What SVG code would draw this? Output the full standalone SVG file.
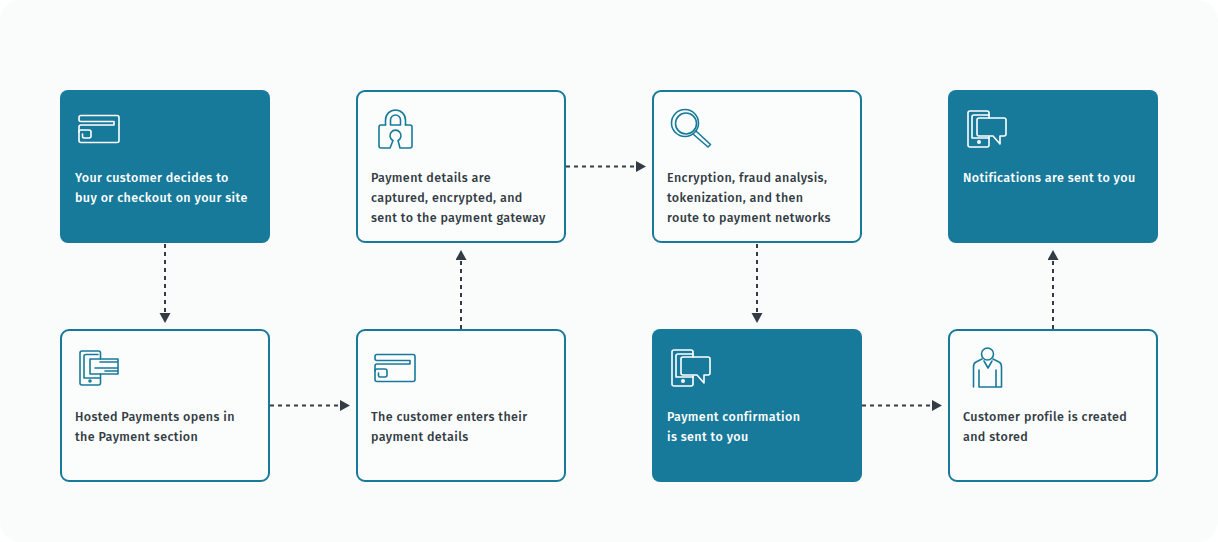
<svg xmlns="http://www.w3.org/2000/svg" xmlns:xlink="http://www.w3.org/1999/xlink" width="1218" height="542" viewBox="0 0 1218 542">
<style>
text{font-family:"Fira Sans","Noto Sans","Liberation Sans",sans-serif;font-size:12.5px;font-weight:500;letter-spacing:.39px}
.a{color:#fff}
.b{color:#187a9a}
.a text{fill:#fff}
.b text{fill:#333c44}
.b>rect{fill:#fbfdfd;stroke:#187a9a;stroke-width:2}
.a>rect{fill:#187a9a}
.i{fill:none;stroke:currentColor;stroke-width:1.6;stroke-linecap:round;stroke-linejoin:round}
.c{fill:none;stroke:#333c44;stroke-width:2;stroke-dasharray:4 4}
</style>
<defs>
<marker id="h" markerWidth="12" markerHeight="12" refX="0" refY="5.5" orient="auto" markerUnits="userSpaceOnUse"><path d="M0 0L10 5.500L0 11Z" fill="#333c44"/></marker>
<g id="card" class="i"><path d="M81 115.500H117a2 2 0 0 1 2 2V140.500a2 2 0 0 1-2 2H81a2 2 0 0 1-2-2V127a2 2 0 0 1 2-2H114V121.500H81a2 2 0 0 1-2-2V117.500a2 2 0 0 1 2-2Z"/><path d="M79 132a2 2 0 0 1 2-2H89a2 2 0 0 1 2 2V136a2 2 0 0 1-2 2H84a1.500 1.500 0 0 1-1.500-1.500V134"/></g>
<g id="chat" class="i"><path d="M989 118V113a2 2 0 0 0-2-2H970a2 2 0 0 0-2 2V145a2 2 0 0 0 2 2H987a2 2 0 0 0 2-2V137"/><path d="M989 115H974a2 2 0 0 0-2 2V138H989"/><circle cx="979" cy="142" r="1.200"/><path d="M979 118H1004a2 2 0 0 1 2 2V134a2 2 0 0 1-2 2H1000V144L993 136H979a2 2 0 0 1-2-2V120a2 2 0 0 1 2-2Z"/></g>
</defs>
<rect width="1218" height="542" rx="20" fill="#fafcfc"/>
<g id="connectors">
<path class="c" d="M165 244V313" marker-end="url(#h)"/>
<path class="c" d="M270 405.500H340" marker-end="url(#h)"/>
<path class="c" d="M461 329V260" marker-end="url(#h)"/>
<path class="c" d="M566 166.500H636" marker-end="url(#h)"/>
<path class="c" d="M757 244V313" marker-end="url(#h)"/>
<path class="c" d="M862 405.500H932" marker-end="url(#h)"/>
<path class="c" d="M1053 329V260" marker-end="url(#h)"/>
</g>
<g id="n1" class="a"><rect x="60" y="90" width="210" height="153" rx="8"/><use xlink:href="#card" href="#card"/><text x="75" y="182">Your customer decides to</text><text x="75" y="202">buy or checkout on your site</text></g>
<g id="n2" class="b"><rect x="61" y="330" width="208" height="151" rx="8"/><g class="i"><path d="M100.500 359V353a2 2 0 0 0-2-2H82a2 2 0 0 0-2 2V383a2 2 0 0 0 2 2H98.500a2 2 0 0 0 2-2V374"/><path d="M98 354.500H86a2 2 0 0 0-2 2V378H100"/><circle cx="90" cy="381" r="1"/><path d="M90 359H118V374H90ZM100 362H118M95 368H118M105 371H118"/></g><text x="75" y="421">Hosted Payments opens in</text><text x="75" y="441">the Payment section</text></g>
<g id="n3" class="b"><rect x="357" y="91" width="208" height="151" rx="8"/><g class="i"><path d="M385.500 125V120a10 10 0 0 1 20 0V125M390.500 125V120a5 5 0 0 1 10 0V125H390.500"/><path d="M385.500 125H381a2 2 0 0 0-2 2V146a2 2 0 0 0 2 2H390L393 140.500a5.500 5.500 0 1 1 5 0L400 148H410a2 2 0 0 0 2-2V127a2 2 0 0 0-2-2H405.500"/></g><text x="371" y="182">Payment details are</text><text x="371" y="202">captured, encrypted, and</text><text x="371" y="222">sent to the payment gateway</text></g>
<g id="n4" class="b"><rect x="357" y="330" width="208" height="151" rx="8"/><use xlink:href="#card" href="#card" x="296" y="239"/><text x="371" y="421">The customer enters their</text><text x="371" y="441">payment details</text></g>
<g id="n5" class="b"><rect x="653" y="91" width="208" height="151" rx="8"/><g class="i"><circle cx="685" cy="123" r="13.500"/><circle cx="686" cy="123.500" r="10.500"/><path d="M693 134L708 147L710.500 144.500L696 131"/></g><text x="667" y="182">Encryption, fraud analysis,</text><text x="667" y="202">tokenization, and then</text><text x="667" y="222">route to payment networks</text></g>
<g id="n6" class="a"><rect x="652" y="329" width="210" height="153" rx="8"/><use xlink:href="#chat" href="#chat" x="-296" y="239"/><text x="667" y="421">Payment confirmation</text><text x="667" y="441">is sent to you</text></g>
<g id="n7" class="a"><rect x="948" y="90" width="210" height="153" rx="8"/><use xlink:href="#chat" href="#chat"/><text x="963" y="182">Notifications are sent to you</text></g>
<g id="n8" class="b"><rect x="949" y="330" width="208" height="151" rx="8"/><g class="i"><circle cx="987.500" cy="354" r="6"/><path d="M982 359L976 362Q973.500 363 973.500 367V387M993 359L999 362Q1001.500 363 1001.500 367V387M984 361L988 368L992 361M979 387V370M996 370V387M979 387H1001.500"/></g><text x="963" y="421">Customer profile is created</text><text x="963" y="441">and stored</text></g>
</svg>
